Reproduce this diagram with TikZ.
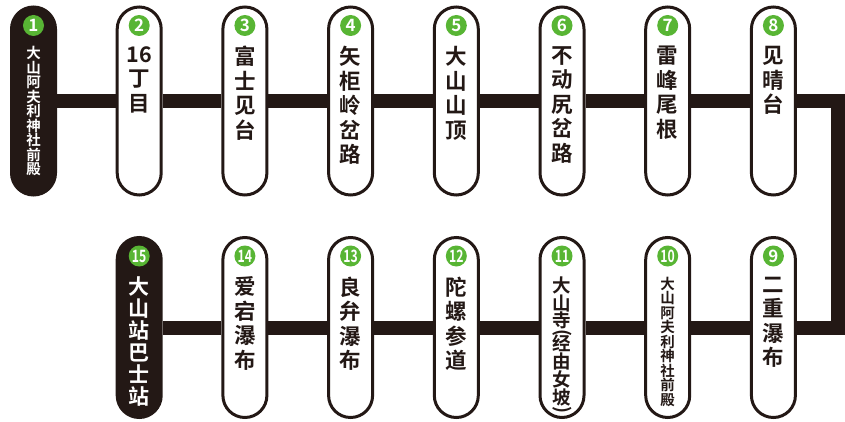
\documentclass[tikz,border=0pt]{standalone}
\usepackage{fontspec}
\newfontfamily\cjk{Noto Sans CJK SC Bold}
\usetikzlibrary{positioning}
\definecolor{ink}{RGB}{35,24,21}
\definecolor{stopgreen}{RGB}{88,181,52}

\begin{document}
\begin{tikzpicture}[x=1pt,y=-1pt,
	stop/.style={draw=ink,line width=3pt,fill=white,rounded corners=22pt,minimum width=44pt,minimum height=188pt,inner sep=0pt},
	termstop/.style={stop,fill=ink},
	lowstop/.style={stop,minimum height=180pt},
	lowterm/.style={termstop,minimum height=180pt},
	num/.style={circle,fill=stopgreen,text=white,minimum size=21pt,inner sep=0pt,font=\cjk\fontsize{17}{17}\selectfont},
	stoptext/.style={align=center,inner sep=0pt,text=ink,font=\cjk\fontsize{21.5}{24.5}\selectfont},
	smalltext/.style={stoptext,font=\cjk\fontsize{14.5}{14.5}\selectfont},
	midtext/.style={stoptext,font=\cjk\fontsize{18.5}{17.5}\selectfont},
	termtext/.style={stoptext,text=white,font=\cjk\fontsize{21}{22}\selectfont},
	termsmall/.style={smalltext,text=white},
	route/.style={draw=ink,line width=14pt}]
	\useasboundingbox (0,0) rectangle (845,422);

	% stations
	\foreach \n/\x/\y/\pill/\look/\txt in {
		1/33.5/101/termstop/termsmall/{大\\山\\阿\\夫\\利\\神\\社\\前\\殿},
		2/139.2/101/stop/stoptext/{16\\丁\\目},
		3/244.9/101/stop/stoptext/{富\\士\\见\\台},
		4/350.6/101/stop/stoptext/{矢\\柜\\岭\\岔\\路},
		5/456.3/101/stop/stoptext/{大\\山\\山\\顶},
		6/562/101/stop/stoptext/{不\\动\\尻\\岔\\路},
		7/667.7/101/stop/stoptext/{雷\\峰\\尾\\根},
		8/773.4/101/stop/stoptext/{见\\晴\\台},
		9/773.4/327.5/lowstop/stoptext/{二\\重\\瀑\\布},
		10/667.7/327.5/lowstop/smalltext/{大\\山\\阿\\夫\\利\\神\\社\\前\\殿},
		11/562/327.5/lowstop/midtext/{大\\山\\寺\\[-6pt]\rotatebox[origin=c]{-90}{(}\\[-6pt]经\\由\\女\\坡\\[-6pt]\rotatebox[origin=c]{-90}{)}},
		12/456.3/327.5/lowstop/stoptext/{陀\\螺\\参\\道},
		13/350.6/327.5/lowstop/stoptext/{良\\弁\\瀑\\布},
		14/244.9/327.5/lowstop/stoptext/{爱\\宕\\瀑\\布},
		15/139.2/327.5/lowterm/termtext/{大\\山\\站\\巴\\士\\站}}
	{
		\node[\pill] (s\n) at (\x,\y) {};
		\node[num] (n\n) at ([yshift=-20pt]s\n.north) {\ifnum\n>9 \scalebox{0.72}[1]{\n}\else\n\fi};
		\node[\look,below=10pt of n\n] (t\n) {\txt};
	}

	% route
	\coordinate (c1) at (838,101);
	\coordinate (c2) at (838,327.5);
	\foreach \a/\b in {1/2,2/3,3/4,4/5,5/6,6/7,7/8,9/10,10/11,11/12,12/13,13/14,14/15}
		\draw[route] (s\a) -- (s\b);
	\draw[route] (s8) -- (c1) -- (c2) -- (s9);
\end{tikzpicture}
\end{document}
